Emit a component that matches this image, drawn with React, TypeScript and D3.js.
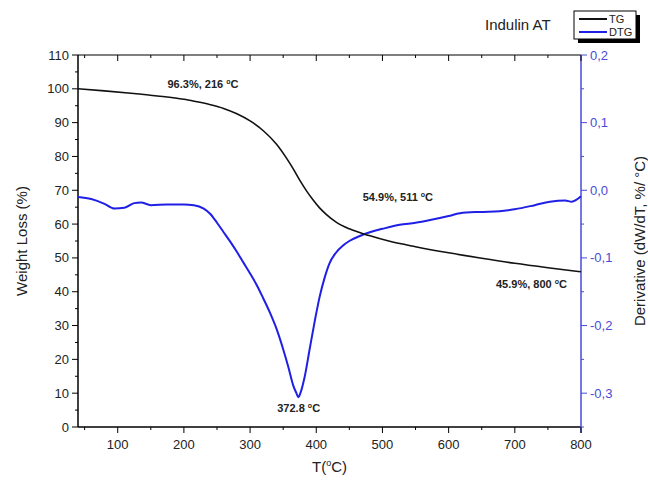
import React from "react";
import * as d3 from "d3";

const tgTemp = [40, 80, 120, 160, 200, 216, 240, 260, 280, 300, 320, 340, 355, 365, 375, 385, 395, 405, 415, 430, 450, 480, 511, 550, 600, 650, 700, 750, 800];
const tgValue = [100.0, 99.4, 98.7, 97.9, 96.9, 96.3, 95.3, 94.2, 92.6, 90.5, 87.6, 83.6, 79.5, 76.4, 73.0, 69.9, 67.2, 64.8, 62.9, 60.6, 58.6, 56.6, 54.9, 53.3, 51.5, 49.9, 48.4, 47.1, 45.9];

const dtgTemp = [40, 60, 80, 95, 110, 125, 135, 150, 175, 200, 215, 230, 240, 250, 260, 270, 280, 290, 300, 310, 320, 330, 340, 350, 358, 365, 370, 372.8, 376, 382, 390, 398, 405, 413, 420, 430, 440, 450, 465, 481, 500, 526, 550, 572, 600, 617, 647, 677, 700, 730, 753, 776, 786, 800];
const dtgValue = [-0.010, -0.013, -0.020, -0.027, -0.026, -0.019, -0.018, -0.022, -0.021, -0.021, -0.022, -0.027, -0.035, -0.048, -0.062, -0.076, -0.091, -0.107, -0.123, -0.140, -0.160, -0.181, -0.205, -0.235, -0.262, -0.288, -0.300, -0.306, -0.300, -0.278, -0.235, -0.192, -0.158, -0.128, -0.108, -0.092, -0.082, -0.075, -0.068, -0.062, -0.057, -0.051, -0.048, -0.044, -0.038, -0.034, -0.032, -0.031, -0.028, -0.022, -0.017, -0.015, -0.017, -0.009];

const xTicks = [100, 200, 300, 400, 500, 600, 700, 800];
const xMinor = [50, 150, 250, 350, 450, 550, 650, 750];
const yTicks = [0, 10, 20, 30, 40, 50, 60, 70, 80, 90, 100, 110];
const yMinor = [5, 15, 25, 35, 45, 55, 65, 75, 85, 95, 105];
const y2Ticks = [0.2, 0.1, 0.0, -0.1, -0.2, -0.3];
const y2Minor = [0.15, 0.05, -0.05, -0.15, -0.25, -0.35];

const annotations = [
  { t: 216, v: 96.3, text: "96.3%, 216 ", dx: -27, dy: -13 },
  { t: 511, v: 54.9, text: "54.9%, 511 ", dx: -27, dy: -40 },
  { t: 800, v: 45.9, text: "45.9%, 800 ", dx: -85, dy: 16 },
];

const W = 648, H = 484;
const L = 78, R = 581, T = 55, B = 427;
const blue = "#1f1fe6";
const axisBlue = "#4a4ad8";

export default function App() {
  const x = d3.scaleLinear().domain([40, 800]).range([L, R]);
  const y = d3.scaleLinear().domain([0, 110]).range([B, T]);
  const y2 = d3.scaleLinear().domain([-0.35, 0.2]).range([B, T]);

  const tgLine = d3.line<number>().x((d, i) => x(tgTemp[i])).y((d) => y(d)).curve(d3.curveMonotoneX);
  const dtgLine = d3.line<number>().x((d, i) => x(dtgTemp[i])).y((d) => y2(d)).curve(d3.curveMonotoneX);

  const fmt2 = (v: number) => (Math.abs(v) < 1e-9 ? "0,0" : v.toFixed(1).replace(".", ","));
  const font = "'Liberation Sans', Arial, sans-serif";

  return (
    <svg width={W} height={H} style={{ position: "absolute", left: 0, top: 0, background: "#fff" }} fontFamily={font}>
      <rect width={W} height={H} fill="#fff" />
      {/* frame */}
      <line x1={L} x2={R} y1={T} y2={T} stroke="#000" strokeWidth={1.2} />
      <line x1={L} x2={R} y1={B} y2={B} stroke="#000" strokeWidth={1.5} />
      <line x1={L} x2={L} y1={T} y2={B} stroke="#000" strokeWidth={1.5} />
      <line x1={R} x2={R} y1={T} y2={B + 6} stroke={axisBlue} strokeWidth={1.5} />

      {/* bottom & top ticks */}
      {xTicks.map((t) => (
        <g key={"xt" + t}>
          <line x1={x(t)} x2={x(t)} y1={B} y2={B + 6} stroke="#000" strokeWidth={1} />
          <line x1={x(t)} x2={x(t)} y1={T} y2={T + 6} stroke="#000" strokeWidth={1} />
          <text x={x(t)} y={B + 22} textAnchor="middle" fontSize={13} fill="#222">{t}</text>
        </g>
      ))}
      {xMinor.map((t) => (
        <g key={"xm" + t}>
          <line x1={x(t)} x2={x(t)} y1={B} y2={B + 3} stroke="#000" strokeWidth={1} />
          <line x1={x(t)} x2={x(t)} y1={T} y2={T + 3} stroke="#000" strokeWidth={1} />
        </g>
      ))}

      {/* left ticks */}
      {yTicks.map((v) => (
        <g key={"yt" + v}>
          <line x1={L - 6} x2={L} y1={y(v)} y2={y(v)} stroke="#000" strokeWidth={1} />
          <text x={L - 9} y={y(v) + 4.5} textAnchor="end" fontSize={13} fill="#222">{v}</text>
        </g>
      ))}
      {yMinor.map((v) => (
        <line key={"ym" + v} x1={L - 3} x2={L} y1={y(v)} y2={y(v)} stroke="#000" strokeWidth={1} />
      ))}

      {/* right ticks */}
      {y2Ticks.map((v) => (
        <g key={"y2t" + v}>
          <line x1={R} x2={R + 6} y1={y2(v)} y2={y2(v)} stroke={axisBlue} strokeWidth={1} />
          <text x={R + 9} y={y2(v) + 4.5} textAnchor="start" fontSize={13} fill={axisBlue}>{fmt2(v)}</text>
        </g>
      ))}
      {y2Minor.map((v) => (
        <line key={"y2m" + v} x1={R} x2={R + 3} y1={y2(v)} y2={y2(v)} stroke={axisBlue} strokeWidth={1} />
      ))}

      {/* curves */}
      <path d={dtgLine(dtgValue) || ""} fill="none" stroke={blue} strokeWidth={2} />
      <path d={tgLine(tgValue) || ""} fill="none" stroke="#111" strokeWidth={1.6} />

      {/* annotations */}
      {annotations.map((a) => (
        <text key={a.text} x={x(a.t) + a.dx} y={y(a.v) + a.dy} fontSize={11} fontWeight="bold" fill="#222">
          {a.text}
          <tspan dy={-4} fontSize={7}>o</tspan>
          <tspan dy={4}>C</tspan>
        </text>
      ))}
      <text x={x(372.8) - 21} y={y2(-0.306) + 15} fontSize={11} fontWeight="bold" fill="#222">
        372.8 <tspan dy={-4} fontSize={7}>o</tspan>
        <tspan dy={4}>C</tspan>
      </text>

      {/* axis titles */}
      <text transform={`translate(27,${(T + B) / 2}) rotate(-90)`} textAnchor="middle" fontSize={15} fill="#222">Weight Loss (%)</text>
      <text transform={`translate(645,${(T + B) / 2}) rotate(-90)`} textAnchor="middle" fontSize={15} fill="#222">
        Derivative (dW/dT, %/ °C)
      </text>
      <text x={(L + R) / 2} y={472} textAnchor="middle" fontSize={15} fill="#222">
        T(<tspan dy={-6} fontSize={9}>o</tspan><tspan dy={6}>C)</tspan>
      </text>

      {/* title + legend */}
      <text x={485} y={30} fontSize={15} fill="#222">Indulin AT</text>
      <rect x={578} y={15} width={62} height={28} fill="#000" />
      <rect x={574} y={11} width={62} height={28} fill="#fff" stroke="#000" strokeWidth={1} />
      <line x1={579} x2={607} y1={19} y2={19} stroke="#111" strokeWidth={2} />
      <text x={609} y={23} fontSize={11} fill="#222">TG</text>
      <line x1={579} x2={607} y1={32} y2={32} stroke={blue} strokeWidth={2} />
      <text x={609} y={36} fontSize={11} fill="#222">DTG</text>
    </svg>
  );
}
